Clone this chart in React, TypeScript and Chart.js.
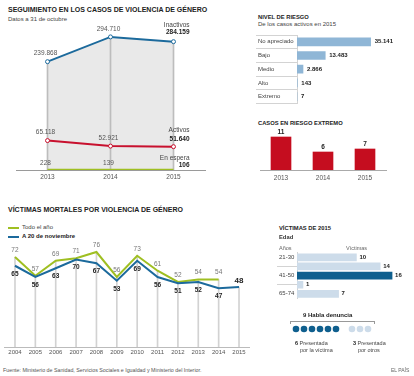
import React, { useEffect, useRef } from 'react';
import { Chart, registerables } from 'chart.js';
Chart.register(...registerables);

// ---------- DATA ----------
const seguimientoYears = ['2013', '2014', '2015'];
const inactivos = [239868, 294710, 284159];
const activos = [65118, 52921, 51640];
const enEspera = [228, 139, 106];

const riesgoNiveles = ['No apreciado', 'Bajo', 'Medio', 'Alto', 'Extremo'];
const riesgoCasos = [35141, 13483, 2866, 143, 7];

const extremoYears = ['2013', '2014', '2015'];
const extremoCasos = [11, 6, 7];

const victimasYears = ['2004', '2005', '2006', '2007', '2008', '2009', '2010', '2011', '2012', '2013', '2014', '2015'];
const victimasTodoAno = [72, 57, 69, 71, 76, 56, 73, 61, 52, 54, 54, null];
const victimasNoviembre = [65, 56, 63, 70, 67, 53, 69, 56, 51, 52, 47, 48];

const edades = ['21-30', '31-40', '41-50', '51-64', '65-74'];
const victimasEdad = [10, 14, 16, 1, 7];
const edadDestacada = '41-50';

const denunciaVictima = 6;
const denunciaOtros = 3;

// ---------- STYLE ----------
const FONT = '"Liberation Sans", Arial, Helvetica, sans-serif';
const BLUE = '#1c6a9c';
const RED = '#c8102e';
const GREEN = '#9fbf22';
const DARKBLUE = '#0f5f8e';
const LIGHTBLUE = '#cddcea';

const fmt = (n: number) => String(n).replace(/\B(?=(\d{3})+(?!\d))/g, '.');

const labelPlugin = {
  id: 'valueLabels',
  afterDatasetsDraw(chart: any) {
    const ctx = chart.ctx;
    chart.data.datasets.forEach((ds: any, di: number) => {
      const L = ds.valueLabels;
      if (!L) return;
      const meta = chart.getDatasetMeta(di);
      meta.data.forEach((el: any, i: number) => {
        const v = ds.data[i];
        if (v == null) return;
        const o = { ...L, ...((L.override && L.override[i]) || {}) };
        ctx.save();
        ctx.fillStyle = o.color || '#333';
        ctx.textBaseline = 'middle';
        if (o.end && i === ds.data.length - 1) {
          ctx.textAlign = 'right';
          ctx.font = `normal ${o.size}px ${FONT}`;
          ctx.fillStyle = '#444';
          ctx.fillText(o.end.name, el.x + o.end.dx, el.y + o.end.nameDy);
          ctx.font = `bold ${o.size}px ${FONT}`;
          ctx.fillStyle = '#222';
          ctx.fillText(fmt(v), el.x + o.end.dx, el.y + o.end.valDy);
        } else {
          ctx.textAlign = o.align || 'center';
          ctx.font = `${o.weight || 'normal'} ${o.size}px ${FONT}`;
          ctx.fillText(fmt(v), el.x + (o.dx || 0), el.y + (o.dy || 0));
        }
        ctx.restore();
      });
    });
  },
};

const baseOpts = {
  animation: false as const,
  responsive: false,
  events: [] as any[],
};

function T(props: { x: number; y: number; size: number; bold?: boolean; color?: string; children: any; style?: any }) {
  const { x, y, size, bold, color, children, style } = props;
  return (
    <div
      style={{
        position: 'absolute',
        left: x,
        top: y - size * 0.6,
        fontSize: size,
        lineHeight: `${size * 1.2}px`,
        fontFamily: FONT,
        fontWeight: bold ? 'bold' : 'normal',
        color: color || '#333',
        whiteSpace: 'nowrap',
        ...style,
      }}
    >
      {children}
    </div>
  );
}

function Canvas(props: { id: string; x: number; y: number; w: number; h: number; refs: any }) {
  const { id, x, y, w, h, refs } = props;
  return (
    <canvas
      ref={(el) => {
        refs.current[id] = el;
      }}
      width={w}
      height={h}
      style={{ position: 'absolute', left: x, top: y, width: w, height: h }}
    />
  );
}

export default function App() {
  const refs = useRef<Record<string, HTMLCanvasElement | null>>({});

  useEffect(() => {
    const c = refs.current as any;
    const charts: Chart[] = [];
    const tickFont = (s: number) => ({ size: s, family: FONT });

    // 1. Seguimiento
    charts.push(
      new Chart(c.seg, {
        type: 'line',
        data: {
          labels: seguimientoYears,
          datasets: [
            {
              type: 'line',
              data: inactivos,
              borderColor: BLUE,
              borderWidth: 2,
              fill: 'origin',
              backgroundColor: '#e9e9e9',
              pointRadius: 2,
              pointBackgroundColor: '#fff',
              pointBorderColor: BLUE,
              pointBorderWidth: 1,
              order: 2,
              valueLabels: { size: 6.5, color: '#555', dx: -2, dy: -8, end: { name: 'Inactivos', dx: 16, nameDy: -16, valDy: -9 } },
            } as any,
            {
              type: 'line',
              data: activos,
              borderColor: RED,
              borderWidth: 2,
              fill: false,
              pointRadius: 2,
              pointBackgroundColor: '#fff',
              pointBorderColor: RED,
              pointBorderWidth: 1,
              order: 1,
              valueLabels: { size: 6.5, color: '#555', dx: -2, dy: -8, end: { name: 'Activos', dx: 16, nameDy: -16, valDy: -7 } },
            } as any,
            {
              type: 'line',
              data: enEspera,
              borderColor: GREEN,
              borderWidth: 2.5,
              fill: false,
              pointRadius: 0,
              order: 0,
              valueLabels: { size: 6.5, color: '#555', dx: -2, dy: -7, end: { name: 'En espera', dx: 16, nameDy: -12, valDy: -5 } },
            } as any,
            {
              type: 'bar',
              data: inactivos,
              backgroundColor: '#bdbdbd',
              borderWidth: 0,
              barThickness: 1,
              order: 3,
            } as any,
          ],
        },
        options: {
          ...baseOpts,
          layout: { padding: { left: 16, right: 2, top: 30, bottom: 1 } },
          plugins: { legend: { display: false }, tooltip: { enabled: false }, filler: { drawTime: 'beforeDatasetsDraw' } } as any,
          scales: {
            x: {
              offset: true,
              grid: { display: false, drawTicks: false },
              border: { display: true, color: '#9a9a9a' },
              ticks: { font: tickFont(6.5), color: '#555', padding: 3, maxRotation: 0 },
              afterFit: (s: any) => {
                s.height = 14;
              },
            },
            y: { display: false, min: 0, max: 310000 },
          },
        } as any,
        plugins: [labelPlugin],
      })
    );

    // 2. Nivel de riesgo
    charts.push(
      new Chart(c.riesgo, {
        type: 'bar',
        data: {
          labels: riesgoNiveles,
          datasets: [
            {
              data: riesgoCasos,
              backgroundColor: '#8fb6d6',
              barThickness: 8,
              valueLabels: { size: 6, weight: 'bold', color: '#222', align: 'left', dx: 4 },
            } as any,
          ],
        },
        options: {
          ...baseOpts,
          indexAxis: 'y',
          layout: { padding: { left: 48, right: 29, top: 35, bottom: 4 } },
          plugins: { legend: { display: false }, tooltip: { enabled: false } },
          scales: {
            x: { display: false, min: 0, max: 42000 },
            y: {
              offset: true,
              grid: { offset: true, drawOnChartArea: false, tickLength: 41, color: '#d3d3d3' },
              border: { display: true, color: '#d3d3d3' },
              ticks: { crossAlign: 'far', font: tickFont(6), color: '#444' },
              afterFit: (s: any) => {
                s.width = 39;
              },
            },
          },
        } as any,
        plugins: [labelPlugin],
      })
    );

    // 3. Casos en riesgo extremo
    charts.push(
      new Chart(c.extremo, {
        type: 'bar',
        data: {
          labels: extremoYears,
          datasets: [
            {
              data: extremoCasos,
              backgroundColor: '#c50d1f',
              barThickness: 20,
              valueLabels: { size: 6.5, weight: 'bold', color: '#222', dy: -5 },
            } as any,
          ],
        },
        options: {
          ...baseOpts,
          layout: { padding: { left: 50, right: 28, top: 8, bottom: 1 } },
          plugins: { legend: { display: false }, tooltip: { enabled: false } },
          scales: {
            x: {
              offset: true,
              grid: { display: false, drawTicks: false },
              border: { display: true, color: '#aaa' },
              ticks: { font: tickFont(6.5), color: '#555', padding: 4 },
              afterFit: (s: any) => {
                s.height = 14;
              },
            },
            y: { display: false, min: 0, max: 14 },
          },
        } as any,
        plugins: [labelPlugin],
      })
    );

    // 4. Victimas mortales
    const stems = victimasYears.map((_, i) => Math.max(victimasTodoAno[i] ?? 0, victimasNoviembre[i] ?? 0));
    charts.push(
      new Chart(c.victimas, {
        type: 'line',
        data: {
          labels: victimasYears,
          datasets: [
            {
              type: 'line',
              data: victimasTodoAno,
              borderColor: GREEN,
              borderWidth: 2,
              pointRadius: 0,
              fill: false,
              spanGaps: false,
              order: 1,
              valueLabels: { size: 6.5, color: '#777', dy: -7 },
            } as any,
            {
              type: 'line',
              data: victimasNoviembre,
              borderColor: BLUE,
              borderWidth: 2,
              pointRadius: 0,
              fill: false,
              order: 0,
              valueLabels: { size: 6.5, weight: 'bold', color: '#222', dy: 8, override: { 11: { dy: -6, size: 8 } } },
            } as any,
            {
              type: 'bar',
              data: stems,
              backgroundColor: '#d2d2d2',
              borderWidth: 0,
              barThickness: 1,
              order: 5,
            } as any,
          ],
        },
        options: {
          ...baseOpts,
          layout: { padding: { left: 4.8, right: 5.8, top: 7, bottom: 0 } },
          plugins: { legend: { display: false }, tooltip: { enabled: false } },
          scales: {
            x: {
              offset: true,
              grid: { display: false, drawTicks: false },
              border: { display: true, color: '#bbb' },
              ticks: { font: tickFont(6), color: '#555', padding: 2, maxRotation: 0, autoSkip: false },
              afterFit: (s: any) => {
                s.height = 13;
              },
            },
            y: { display: false, min: 0, max: 80 },
          },
        } as any,
        plugins: [labelPlugin],
      })
    );

    // 5. Victimas por edad
    charts.push(
      new Chart(c.edad, {
        type: 'bar',
        data: {
          labels: edades,
          datasets: [
            {
              data: victimasEdad,
              backgroundColor: edades.map((e) => (e === edadDestacada ? DARKBLUE : LIGHTBLUE)),
              barThickness: 7,
              valueLabels: { size: 6, weight: 'bold', color: '#222', align: 'left', dx: 3 },
            } as any,
          ],
        },
        options: {
          ...baseOpts,
          indexAxis: 'y',
          layout: { padding: { left: 39, right: 16, top: 12.75, bottom: 2.75 } },
          plugins: { legend: { display: false }, tooltip: { enabled: false } },
          scales: {
            x: { display: false, min: 0, max: 17 },
            y: {
              offset: true,
              grid: { offset: true, drawOnChartArea: false, tickLength: 20, color: '#d3d3d3' },
              border: { display: true, color: '#d3d3d3' },
              ticks: { crossAlign: 'far', font: tickFont(6), color: '#444' },
              afterFit: (s: any) => {
                s.width = 18;
              },
            },
          },
        } as any,
        plugins: [labelPlugin],
      })
    );

    // 6. Denuncias (dots)
    const darkDots = Array.from({ length: denunciaVictima }, (_, i) => ({ x: i, y: 0 }));
    const lightDots = Array.from({ length: denunciaOtros }, (_, i) => ({ x: denunciaVictima + 1 + i, y: 0 }));
    charts.push(
      new Chart(c.dots, {
        type: 'scatter',
        data: {
          datasets: [
            { data: darkDots, pointRadius: 3.3, pointBackgroundColor: DARKBLUE, pointBorderWidth: 0 } as any,
            { data: lightDots, pointRadius: 3.3, pointBackgroundColor: LIGHTBLUE, pointBorderWidth: 0 } as any,
          ],
        },
        options: {
          ...baseOpts,
          layout: { padding: 0 },
          plugins: { legend: { display: false }, tooltip: { enabled: false } },
          scales: {
            x: { display: false, min: -1, max: 10 },
            y: { display: false, min: -1, max: 1 },
          },
        } as any,
      })
    );

    return () => charts.forEach((ch) => ch.destroy());
  }, []);

  const total = denunciaVictima + denunciaOtros;

  return (
    <div style={{ position: 'absolute', left: 0, top: 0, width: 414, height: 376, background: '#fff', overflow: 'hidden', fontFamily: FONT }}>
      {/* Section 1 */}
      <T x={8} y={10} size={7} bold color="#222">SEGUIMIENTO EN LOS CASOS DE VIOLENCIA DE GÉNERO</T>
      <T x={8} y={19.5} size={6} color="#444">Datos a 31 de octubre</T>
      <Canvas id="seg" x={0} y={0} w={210} h={185} refs={refs} />

      {/* Nivel de riesgo */}
      <T x={258} y={17} size={5.8} bold color="#222">NIVEL DE RIESGO</T>
      <T x={258} y={25} size={6} color="#444">De los casos activos en 2015</T>
      <Canvas id="riesgo" x={210} y={0} w={204} h={110} refs={refs} />

      {/* Riesgo extremo */}
      <T x={258} y={123} size={5.8} bold color="#222">CASOS EN RIESGO EXTREMO</T>
      <Canvas id="extremo" x={210} y={120} w={204} h={65} refs={refs} />

      {/* Victimas mortales */}
      <T x={8} y={210} size={7} bold color="#222">VÍCTIMAS MORTALES POR VIOLENCIA DE GÉNERO</T>
      <div style={{ position: 'absolute', left: 8, top: 227, width: 11, height: 2, background: GREEN }} />
      <T x={22} y={228} size={6} color="#444">Todo el año</T>
      <div style={{ position: 'absolute', left: 8, top: 236, width: 11, height: 2, background: BLUE }} />
      <T x={22} y={237} size={6} bold color="#222">A 20 de noviembre</T>
      <Canvas id="victimas" x={0} y={240} w={255} h={120} refs={refs} />

      {/* Victimas de 2015 */}
      <T x={279} y={228} size={5.8} bold color="#222">VÍCTIMAS DE 2015</T>
      <T x={279} y={237} size={5.8} bold color="#333">Edad</T>
      <T x={279} y={248.5} size={5.5} color="#666">Años</T>
      <T x={346} y={248.5} size={5.5} color="#666">Víctimas</T>
      <Canvas id="edad" x={240} y={240} w={174} h={65} refs={refs} />

      {/* Denuncias */}
      <T x={303} y={316} size={6} bold color="#222">{total} Habla denuncia</T>
      <div style={{ position: 'absolute', left: 290, top: 321, width: 85, height: 3, borderTop: '1px solid #999', borderLeft: '1px solid #999', borderRight: '1px solid #999', boxSizing: 'border-box' }} />
      <Canvas id="dots" x={284} y={320} w={96} h={18} refs={refs} />
      <T x={295} y={343} size={5.5} color="#444"><b style={{ color: '#222' }}>{denunciaVictima}</b> Presentada</T>
      <T x={300} y={350} size={5.5} color="#444">por la víctima</T>
      <T x={353} y={343} size={5.5} color="#444"><b style={{ color: '#222' }}>{denunciaOtros}</b> Presentada</T>
      <T x={358} y={350} size={5.5} color="#444">por otros</T>

      {/* Footer */}
      <T x={3} y={370} size={5.3} color="#555">Fuente: Ministerio de Sanidad, Servicios Sociales e Igualdad y Ministerio del Interior.</T>
      <T x={391} y={370} size={5} color="#666">EL PAÍS</T>
    </div>
  );
}
